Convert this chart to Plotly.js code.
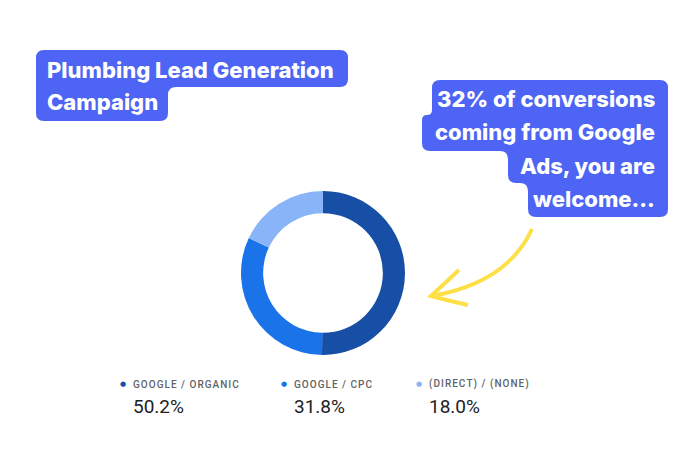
<!DOCTYPE html>
<html><head><meta charset="utf-8">
<script src="https://cdn.plot.ly/plotly-3.0.1.min.js"></script>
<style>html,body{margin:0;padding:0;background:#fff}#chart{width:700px;height:450px}</style>
</head><body><div id="chart"></div>
<script>
const channels = ['google / organic', 'google / cpc', '(direct) / (none)'];
const legendLabels = ['GOOGLE / ORGANIC', 'GOOGLE / CPC', '(DIRECT) / (NONE)'];
const shares = [50.2, 31.8, 18.0];
const sliceColors = ['#174ea6', '#1a73e8', '#8ab4f8'];
const titleLines = ['Plumbing Lead Generation', 'Campaign'];
const noteLines = ['32% of conversions', 'coming from Google', 'Ads, you are', 'welcome...'];

const W = 700, H = 450;
const fx = x => x / W, fy = y => 1 - y / H;
function P(x, y) { return fx(x).toFixed(5) + ',' + fy(y).toFixed(5); }
function roundPoly(pts, R) {
  const n = pts.length; let d = '';
  for (let i = 0; i < n; i++) {
    const a = pts[(i - 1 + n) % n], b = pts[i], c = pts[(i + 1) % n];
    const l1 = Math.hypot(b[0] - a[0], b[1] - a[1]), l2 = Math.hypot(c[0] - b[0], c[1] - b[1]);
    const r = Math.min(R, l1 / 2, l2 / 2);
    const s = [b[0] + (a[0] - b[0]) * r / l1, b[1] + (a[1] - b[1]) * r / l1];
    const e = [b[0] + (c[0] - b[0]) * r / l2, b[1] + (c[1] - b[1]) * r / l2];
    d += (i === 0 ? 'M' : ' L') + P(s[0], s[1]) + ' Q' + P(b[0], b[1]) + ' ' + P(e[0], e[1]);
  }
  return d + ' Z';
}
const BOX = '#4d64f5';
const shapes = [];
const leftBox = [[36, 50], [348, 50], [348, 87], [168, 87], [168, 121], [36, 121]];
const rightBox = [[432, 80], [668, 80], [668, 217], [528, 217], [528, 183], [508, 183], [508, 151], [422, 151], [422, 115], [432, 115]];
[leftBox, rightBox].forEach(b => shapes.push({type: 'path', xref: 'paper', yref: 'paper', path: roundPoly(b, 8), fillcolor: BOX, line: {width: 0}, layer: 'below'}));

// yellow hand-drawn arrow
shapes.push({type: 'path', xref: 'paper', yref: 'paper',
  path: 'M' + P(532, 229) + ' C' + P(515, 266) + ' ' + P(482, 287) + ' ' + P(432, 296),
  line: {color: '#fde047', width: 4}});
shapes.push({type: 'path', xref: 'paper', yref: 'paper',
  path: 'M' + P(459, 270) + ' Q' + P(444, 284) + ' ' + P(431, 296) + ' Q' + P(450, 301) + ' ' + P(468, 305),
  line: {color: '#fde047', width: 4}});

const annotations = [];
const tfont = {family: 'Inter, sans-serif', size: 22, color: '#ffffff', weight: 800};
const titleY = [70, 102];
titleLines.forEach((t, i) => annotations.push({xref: 'paper', yref: 'paper', x: fx(45), y: fy(titleY[i]), xanchor: 'left', yanchor: 'middle', text: t, showarrow: false, font: tfont}));
const noteY = [99, 132, 166, 199];
noteLines.forEach((t, i) => annotations.push({xref: 'paper', yref: 'paper', x: fx(657), y: fy(noteY[i]), xanchor: 'right', yanchor: 'middle', text: t, showarrow: false, font: tfont}));

const legX = [133, 294, 429];
legendLabels.forEach((l, i) => {
  annotations.push({xref: 'paper', yref: 'paper', x: fx(legX[i] - 5), y: fy(384), xanchor: 'right', yanchor: 'middle', text: '●', showarrow: false, font: {family: 'DejaVu Sans', size: 7, color: sliceColors[i]}});
  annotations.push({xref: 'paper', yref: 'paper', x: fx(legX[i] - 2), y: fy(384), xanchor: 'left', yanchor: 'middle', text: l.split('').join('\u200A'), showarrow: false, font: {family: 'Roboto, sans-serif', size: 10, color: '#5f6368', weight: 500}});
  annotations.push({xref: 'paper', yref: 'paper', x: fx(legX[i] - 2), y: fy(406), xanchor: 'left', yanchor: 'middle', text: shares[i].toFixed(1) + '%', showarrow: false, font: {family: 'Roboto, sans-serif', size: 19, color: '#202124'}});
});

const data = [{
  type: 'pie', labels: channels, values: shares, sort: false, direction: 'clockwise', rotation: 0,
  hole: 0.73, textinfo: 'none', hoverinfo: 'label+percent',
  marker: {colors: sliceColors, line: {width: 0}},
  domain: {x: [fx(241), fx(405)], y: [fy(355), fy(191)]}, showlegend: false
}];
const layout = {width: W, height: H, margin: {l: 0, r: 0, t: 0, b: 0}, paper_bgcolor: '#fff', plot_bgcolor: '#fff', showlegend: false, shapes: shapes, annotations: annotations};
Plotly.newPlot('chart', data, layout, {displayModeBar: false, staticPlot: true});
</script></body></html>
